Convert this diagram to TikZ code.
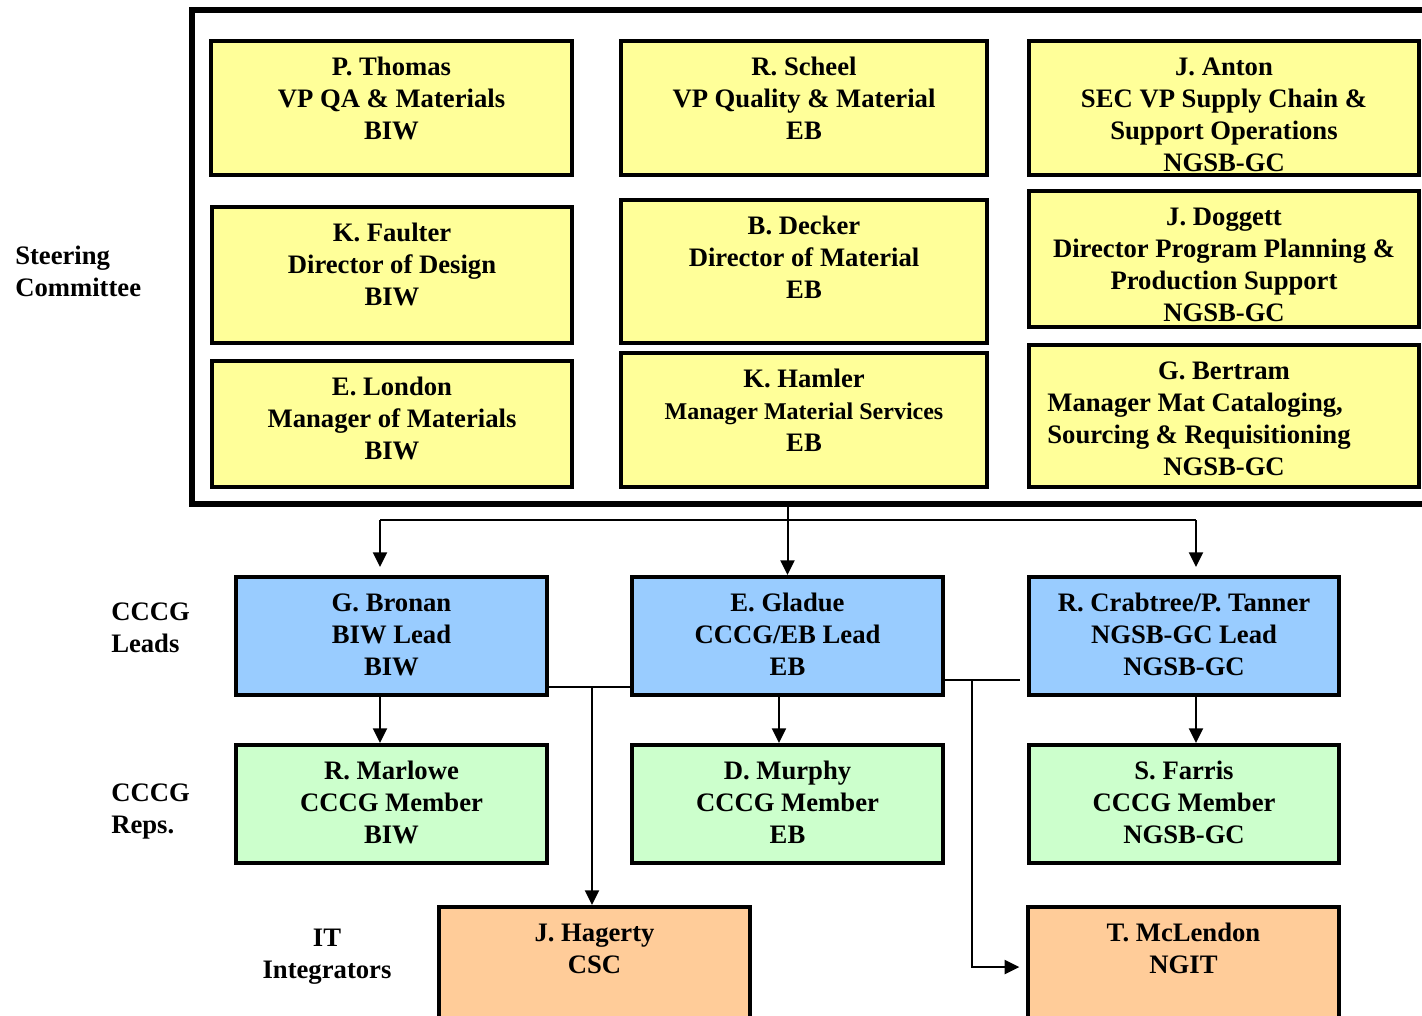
\documentclass[tikz,border=0pt]{standalone}
\usepackage{fontspec}
\setmainfont{Liberation Serif}
\usetikzlibrary{arrows.meta,positioning}
\definecolor{ylw}{HTML}{FFFF99}
\definecolor{blu}{HTML}{99CCFF}
\definecolor{grn}{HTML}{CCFFCC}
\definecolor{org}{HTML}{FFCC99}
\newcommand\fl{\rule{0pt}{18pt}}
\newcommand\mkbox[6]{\node[#2, minimum width={(#5-#3)*0.75pt}, minimum height={(#6-#4)*0.75pt}] (#1) at ({(#3+#5)/2},{(#4+#6)/2}) {};}
\begin{document}
\begin{tikzpicture}[x=0.75pt,y=-0.75pt,
  box/.style={draw=black, line width=3pt, inner sep=0pt},
  ybox/.style={box, fill=ylw},
  bbox/.style={box, fill=blu},
  gbox/.style={box, fill=grn},
  obox/.style={box, fill=org},
  frame/.style={draw=black, line width=4pt, inner sep=0pt, fill=none},
  txt/.style={inner sep=0pt, align=center, font=\bfseries\fontsize{20}{24}\selectfont},
  lab/.style={inner sep=0pt, align=left, anchor=north west, font=\bfseries\fontsize{20}{24.5}\selectfont},
  ln/.style={line width=1.5pt},
  arr/.style={ln, -{Triangle[width=10.5pt,length=11pt]}},
]
\useasboundingbox (0,0) rectangle (1422,1015);

% steering committee frame
\mkbox{sc}{frame}{192}{10}{1445}{504}

% steering committee boxes
\mkbox{thomas}{ybox}{211}{41}{572}{175}
\mkbox{scheel}{ybox}{621}{41}{987}{175}
\mkbox{anton}{ybox}{1029}{41}{1419}{175}
\mkbox{faulter}{ybox}{212}{207}{572}{343}
\mkbox{decker}{ybox}{621}{200}{987}{343}
\mkbox{doggett}{ybox}{1029}{191}{1419}{327}
\mkbox{london}{ybox}{212}{361}{572}{487}
\mkbox{hamler}{ybox}{621}{353}{987}{487}
\mkbox{bertram}{ybox}{1029}{345}{1419}{487}

% CCCG leads
\mkbox{bronan}{bbox}{236}{577}{547}{695}
\mkbox{gladue}{bbox}{632}{577}{943}{695}
\mkbox{crabtree}{bbox}{1029}{577}{1339}{695}

% CCCG reps
\mkbox{marlowe}{gbox}{236}{745}{547}{863}
\mkbox{murphy}{gbox}{632}{745}{943}{863}
\mkbox{farris}{gbox}{1029}{745}{1339}{863}

% IT integrators
\mkbox{hagerty}{obox}{439}{907}{750}{1035}
\mkbox{mclendon}{obox}{1028}{907}{1339}{1035}

% texts
\node[txt, below=9pt of thomas.north] (thomas-t) {\fl P. Thomas\\VP QA \& Materials\\BIW};
\node[txt, below=9pt of scheel.north] (scheel-t) {\fl R. Scheel\\VP Quality \& Material\\EB};
\node[txt, below=9pt of anton.north] (anton-t) {\fl J. Anton\\SEC VP Supply Chain \&\\Support Operations\\NGSB-GC};
\node[txt, below=9pt of faulter.north] (faulter-t) {\fl K. Faulter\\Director of Design\\BIW};
\node[txt, below=9pt of decker.north] (decker-t) {\fl B. Decker\\Director of Material\\EB};
\node[txt, below=9pt of doggett.north] (doggett-t) {\fl J. Doggett\\Director Program Planning \&\\Production Support\\NGSB-GC};
\node[txt, below=9pt of london.north] (london-t) {\fl E. London\\Manager of Materials\\BIW};
\node[txt, below=9pt of hamler.north] (hamler-t) {\fl K. Hamler\\{\fontsize{18}{22}\selectfont Manager Material Services}\\EB};
\node[txt, below=9pt of bertram.north] (bertram-t) {\fl G. Bertram\\\makebox[265pt][l]{Manager Mat Cataloging,}\\\makebox[265pt][l]{Sourcing \& Requisitioning}\\NGSB-GC};

\node[txt, below=9pt of bronan.north] (bronan-t) {\fl G. Bronan\\BIW Lead\\BIW};
\node[txt, below=9pt of gladue.north] (gladue-t) {\fl E. Gladue\\CCCG/EB Lead\\EB};
\node[txt, below=9pt of crabtree.north] (crabtree-t) {\fl R. Crabtree/P. Tanner\\NGSB-GC Lead\\NGSB-GC};
\node[txt, below=9pt of marlowe.north] (marlowe-t) {\fl R. Marlowe\\CCCG Member\\BIW};
\node[txt, below=9pt of murphy.north] (murphy-t) {\fl D. Murphy\\CCCG Member\\EB};
\node[txt, below=9pt of farris.north] (farris-t) {\fl S. Farris\\CCCG Member\\NGSB-GC};
\node[txt, below=9pt of hagerty.north] (hagerty-t) {\fl J. Hagerty\\CSC};
\node[txt, below=9pt of mclendon.north] (mclendon-t) {\fl T. McLendon\\NGIT};

% row labels
\node[lab] (l-sc) at (15,240) {\fl Steering\\Committee};
\node[lab] (l-leads) at (111,596) {\fl CCCG\\Leads};
\node[lab] (l-reps) at (111,777) {\fl CCCG\\Reps.};
\node[txt, anchor=north] (l-it) at (327,922) {\fl IT\\Integrators};

% connectors
\coordinate (hl) at (380,520);
\coordinate (hr) at (1196,520);
\coordinate (bj) at (592,687);
\coordinate (gj) at (972,680);

\draw[arr] (gladue.north |- sc.south) -- (gladue.north);
\draw[ln] (hl) -- (hr);
\draw[arr, shorten >=6pt] (hl) -- (hl |- bronan.north);
\draw[arr, shorten >=6pt] (hr) -- (hr |- crabtree.north);
\draw[arr] (hl |- bronan.south) -- (hl |- marlowe.north);
\draw[arr] ([xshift=-6.4pt]gladue.south) -- ([xshift=-6.4pt]murphy.north);
\draw[arr] (hr |- crabtree.south) -- (hr |- farris.north);

\draw[ln] (bronan.east |- bj) -- (gladue.west |- bj);
\draw[arr] (bj) -- (bj |- hagerty.north);

\draw[ln] ([xshift=-2pt]gladue.east |- gj) -- (crabtree.west |- gj) [shorten >=5pt];
\draw[arr, shorten >=5pt] (gj) |- (mclendon.west |- 0,967);
\end{tikzpicture}
\end{document}
